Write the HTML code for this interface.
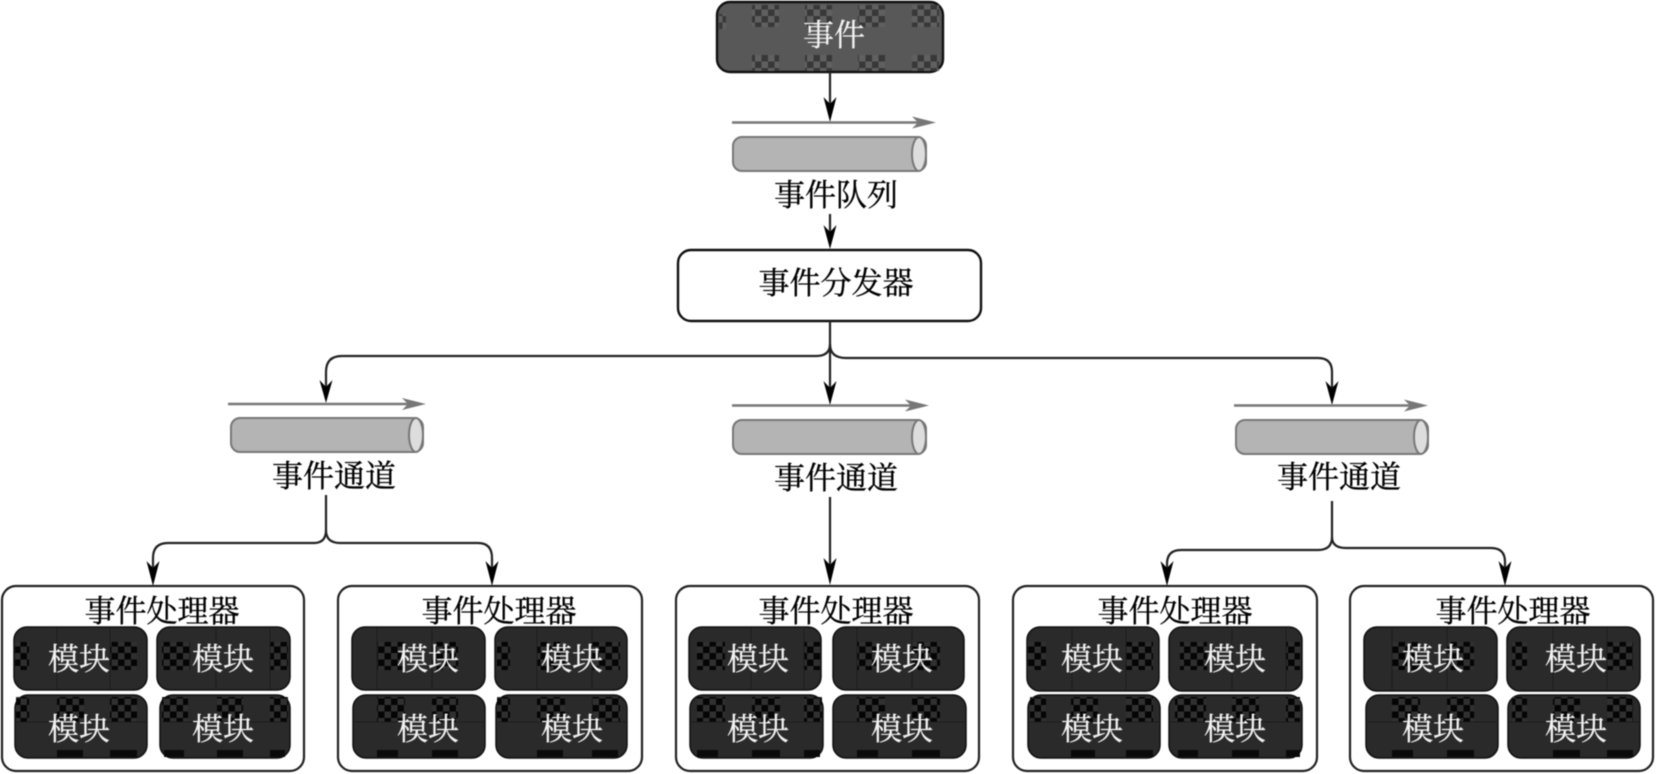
<!DOCTYPE html>
<html><head><meta charset="utf-8"><style>
html,body{margin:0;padding:0;background:#fff;width:1656px;height:774px;overflow:hidden}
svg{display:block;filter:blur(.6px)}
text{font-family:"Liberation Serif","Noto Serif CJK SC",serif;font-size:31px;text-anchor:middle;fill:#000;stroke:#000;stroke-width:.35px}
text.w{fill:#f2f2f2;stroke:#f2f2f2;stroke-width:.25px}
.h{fill:#fff;stroke:#222;stroke-width:2.2}
.m{fill:#2a2a2a;stroke:#111;stroke-width:1.5}
.c{fill:url(#chk)}
.b{fill:#0a0a0a}
.l{fill:none;stroke:#222;stroke-width:2.2}
.a{fill:#000}
.g{stroke:#777;stroke-width:2.4;fill:none}
.ga{fill:#777}
.cy{fill:#b4b4b4;stroke:#777;stroke-width:2}
.ce{fill:#ddd;stroke:#777;stroke-width:2}
.v{stroke:#1c1c1c;stroke-width:1;fill:none}
</style></head><body>
<svg width="1656" height="774" viewBox="0 0 1656 774" xmlns="http://www.w3.org/2000/svg">
<defs>
<pattern id="chk" width="13" height="13" patternUnits="userSpaceOnUse" patternTransform="translate(1 3)">
<rect width="13" height="13" fill="#050505"/><rect x="0" y="0" width="6.500" height="6.500" fill="#303030"/><rect x="6.500" y="6.500" width="6.500" height="6.500" fill="#303030"/>
</pattern>
<pattern id="chk2" width="13" height="13" patternUnits="userSpaceOnUse" patternTransform="translate(1 3)">
<rect width="13" height="13" fill="#383838"/><rect x="0" y="0" width="6.500" height="6.500" fill="#606060"/><rect x="6.500" y="6.500" width="6.500" height="6.500" fill="#606060"/>
</pattern>
</defs>

<!-- top event box -->
<rect x="717" y="2" width="226" height="70" rx="13" fill="#585858" stroke="#111" stroke-width="2.4"/>
<g fill="url(#chk2)">
<rect x="752" y="5" width="27" height="22"/><rect x="805" y="5" width="27" height="22"/><rect x="858" y="5" width="27" height="22"/><rect x="912" y="5" width="27" height="22"/>
<rect x="752" y="55" width="27" height="16"/><rect x="805" y="55" width="27" height="16"/><rect x="858" y="55" width="27" height="16"/><rect x="912" y="55" width="27" height="16"/>
<rect x="719" y="14" width="7" height="15"/>
</g>
<text class="w" x="834" y="46">事件</text>

<!-- queue -->
<path class="l" d="M830 72V110"/>
<path class="a" d="M830 122L823.500 97L830 104L836.500 97Z"/>
<path class="g" d="M732 122.500H925"/>
<path class="ga" d="M936 122.500L912 116.500L918 122.500L912 128.500Z"/>
<rect class="cy" x="733" y="137" width="193" height="34" rx="9"/>
<ellipse class="ce" cx="919" cy="154" rx="7" ry="17"/>
<text x="836" y="206">事件队列</text>

<!-- dispatcher -->
<path class="l" d="M830 214V238"/>
<path class="a" d="M830 249L823.500 225L830 232L836.500 225Z"/>
<rect x="678" y="250" width="303" height="71" rx="13" fill="#fff" stroke="#111" stroke-width="2.4"/>
<text x="836" y="294">事件分发器</text>

<!-- dispatcher fan out -->
<path class="l" d="M830 321V395"/>
<path class="a" d="M830 405L823.500 381L830 388L836.500 381Z"/>
<path class="l" d="M830 344Q830 356 816 356H342Q326 356 326 372V392"/>
<path class="a" d="M326 403L319.500 380L326 387L332.500 380Z"/>
<path class="l" d="M830 344Q830 358 846 358H1318Q1332 358 1332 372V394"/>
<path class="a" d="M1332 405L1325.500 381L1332 388L1338.500 381Z"/>

<!-- channel left -->
<path class="g" d="M228 404H416"/>
<path class="ga" d="M426 404L402 398L408 404L402 410Z"/>
<rect class="cy" x="231" y="418" width="192" height="34" rx="9"/>
<ellipse class="ce" cx="416" cy="435" rx="7" ry="17"/>
<text x="334" y="487">事件通道</text>
<path class="l" d="M326 495V530Q326 543 314 543H168Q153 543 153 558V574"/>
<path class="a" d="M153 586L146.500 561L153 568L159.500 561Z"/>
<path class="l" d="M326 530Q326 543 340 543H478Q492 543 492 558V574"/>
<path class="a" d="M492 586L485.500 561L492 568L498.500 561Z"/>

<!-- channel mid -->
<path class="g" d="M732 405.500H918"/>
<path class="ga" d="M929 405.500L905 399.500L911 405.500L905 411.500Z"/>
<rect class="cy" x="733" y="420" width="193" height="34" rx="9"/>
<ellipse class="ce" cx="919" cy="437" rx="7" ry="17"/>
<text x="836" y="489">事件通道</text>
<path class="l" d="M830 497V572"/>
<path class="a" d="M830 585L823.500 558L830 565L836.500 558Z"/>

<!-- channel right -->
<path class="g" d="M1234 405.500H1417"/>
<path class="ga" d="M1428 405.500L1404 399.500L1410 405.500L1404 411.500Z"/>
<rect class="cy" x="1236" y="420" width="192" height="34" rx="9"/>
<ellipse class="ce" cx="1421" cy="437" rx="7" ry="17"/>
<text x="1339" y="488">事件通道</text>
<path class="l" d="M1332 501V537Q1332 550 1318 550H1181Q1167 550 1167 564V574"/>
<path class="a" d="M1167 586L1160.500 561L1167 568L1173.500 561Z"/>
<path class="l" d="M1332 537Q1332 548 1346 548H1491Q1505 548 1505 562V574"/>
<path class="a" d="M1505 586L1498.500 561L1505 568L1511.500 561Z"/>

<!-- handler 1 -->
<rect class="h" x="2" y="586" width="302" height="185" rx="14"/>
<text x="162" y="622">事件处理器</text>
<rect class="m" x="14" y="627" width="133" height="63" rx="13"/>
<rect class="m" x="157" y="627" width="133" height="63" rx="13"/>
<rect class="m" x="15" y="695" width="132" height="63" rx="13"/>
<rect class="m" x="160" y="695" width="130" height="63" rx="13"/>
<g class="c">
<rect x="15" y="642" width="14" height="28"/><rect x="110" y="642" width="27" height="28"/>
<rect x="162" y="642" width="28" height="28"/><rect x="270" y="642" width="18" height="28"/>
<rect x="16" y="697" width="13" height="25"/><rect x="57" y="697" width="27" height="25"/><rect x="110" y="697" width="27" height="25"/>
<rect x="162" y="697" width="26" height="25"/><rect x="217" y="697" width="26" height="25"/><rect x="270" y="697" width="18" height="25"/>
</g>
<g class="b">
<rect x="57" y="750" width="26" height="7"/><rect x="110" y="750" width="27" height="7"/>
<rect x="164" y="750" width="20" height="7"/><rect x="217" y="750" width="26" height="7"/><rect x="270" y="750" width="15" height="7"/>
</g>
<path class="v" d="M57 628V689M110 628V689M216 628V689M270 628V689M16 722H146M162 722H288"/>
<text class="w" x="79" y="670">模块</text><text class="w" x="223" y="670">模块</text>
<text class="w" x="79" y="740">模块</text><text class="w" x="223" y="740">模块</text>

<!-- handler 2 -->
<rect class="h" x="338" y="586" width="304" height="185" rx="14"/>
<text x="499" y="622">事件处理器</text>
<rect class="m" x="352" y="627" width="133" height="63" rx="13"/>
<rect class="m" x="495" y="627" width="132" height="63" rx="13"/>
<rect class="m" x="353" y="695" width="132" height="63" rx="13"/>
<rect class="m" x="496" y="695" width="131" height="63" rx="13"/>
<g class="c">
<rect x="377" y="642" width="28" height="28"/><rect x="432" y="642" width="26" height="28"/>
<rect x="497" y="642" width="13" height="28"/><rect x="537" y="642" width="28" height="28"/><rect x="592" y="642" width="28" height="28"/>
<rect x="377" y="697" width="28" height="25"/><rect x="432" y="697" width="26" height="25"/>
<rect x="497" y="697" width="13" height="25"/><rect x="537" y="697" width="28" height="25"/><rect x="592" y="697" width="28" height="25"/>
</g>
<g class="b">
<rect x="377" y="750" width="21" height="7"/><rect x="432" y="750" width="26" height="7"/>
<rect x="537" y="750" width="26" height="7"/><rect x="592" y="750" width="26" height="7"/>
</g>
<path class="v" d="M377 628V689M432 628V689M537 628V689M592 628V689M354 722H484M498 722H626"/>
<text class="w" x="428" y="670">模块</text><text class="w" x="572" y="670">模块</text>
<text class="w" x="428" y="740">模块</text><text class="w" x="572" y="740">模块</text>

<!-- handler 3 -->
<rect class="h" x="676" y="586" width="303" height="185" rx="14"/>
<text x="836" y="622">事件处理器</text>
<rect class="m" x="689" y="627" width="132" height="63" rx="13"/>
<rect class="m" x="833" y="627" width="131" height="63" rx="13"/>
<rect class="m" x="690" y="695" width="133" height="63" rx="13"/>
<rect class="m" x="833" y="695" width="133" height="63" rx="13"/>
<g class="c">
<rect x="697" y="642" width="28" height="28"/><rect x="804" y="642" width="16" height="28"/>
<rect x="857" y="642" width="20" height="28"/><rect x="912" y="642" width="28" height="28"/>
<rect x="697" y="697" width="28" height="25"/><rect x="752" y="697" width="28" height="25"/><rect x="804" y="697" width="18" height="25"/>
<rect x="857" y="697" width="28" height="25"/><rect x="912" y="697" width="28" height="25"/>
</g>
<g class="b">
<rect x="697" y="750" width="21" height="7"/><rect x="752" y="750" width="28" height="7"/><rect x="804" y="750" width="16" height="7"/>
<rect x="857" y="750" width="21" height="7"/><rect x="912" y="750" width="28" height="7"/>
</g>
<path class="v" d="M751 628V689M804 628V689M857 628V689M912 628V689M691 722H822M834 722H965"/>
<text class="w" x="758" y="670">模块</text><text class="w" x="902" y="670">模块</text>
<text class="w" x="758" y="740">模块</text><text class="w" x="902" y="740">模块</text>

<!-- handler 4 -->
<rect class="h" x="1013" y="586" width="304" height="185" rx="14"/>
<text x="1175" y="622">事件处理器</text>
<rect class="m" x="1027" y="627" width="132" height="64" rx="13"/>
<rect class="m" x="1169" y="627" width="133" height="64" rx="13"/>
<rect class="m" x="1028" y="695" width="132" height="63" rx="13"/>
<rect class="m" x="1169" y="695" width="133" height="63" rx="13"/>
<g class="c">
<rect x="1028" y="642" width="18" height="28"/><rect x="1126" y="642" width="27" height="28"/>
<rect x="1180" y="642" width="27" height="28"/><rect x="1286" y="642" width="14" height="28"/>
<rect x="1030" y="697" width="16" height="25"/><rect x="1071" y="697" width="27" height="25"/><rect x="1126" y="697" width="27" height="25"/>
<rect x="1175" y="697" width="31" height="25"/><rect x="1232" y="697" width="27" height="25"/><rect x="1286" y="697" width="14" height="25"/>
</g>
<g class="b">
<rect x="1071" y="750" width="24" height="7"/><rect x="1126" y="750" width="27" height="7"/>
<rect x="1178" y="750" width="20" height="7"/><rect x="1232" y="750" width="27" height="7"/><rect x="1286" y="750" width="14" height="7"/>
</g>
<path class="v" d="M1072 628V690M1126 628V690M1232 628V690M1286 628V690M1029 722H1159M1170 722H1301"/>
<text class="w" x="1092" y="670">模块</text><text class="w" x="1235" y="670">模块</text>
<text class="w" x="1092" y="740">模块</text><text class="w" x="1235" y="740">模块</text>

<!-- handler 5 -->
<rect class="h" x="1350" y="586" width="303" height="185" rx="14"/>
<text x="1513" y="622">事件处理器</text>
<rect class="m" x="1364" y="627" width="133" height="64" rx="13"/>
<rect class="m" x="1507" y="627" width="133" height="64" rx="13"/>
<rect class="m" x="1366" y="695" width="132" height="63" rx="13"/>
<rect class="m" x="1508" y="695" width="132" height="63" rx="13"/>
<g class="c">
<rect x="1392" y="642" width="28" height="28"/><rect x="1447" y="642" width="27" height="28"/>
<rect x="1512" y="642" width="15" height="28"/><rect x="1607" y="642" width="26" height="28"/>
<rect x="1392" y="697" width="28" height="25"/><rect x="1447" y="697" width="27" height="25"/>
<rect x="1512" y="697" width="15" height="25"/><rect x="1553" y="697" width="27" height="25"/><rect x="1607" y="697" width="26" height="25"/>
</g>
<g class="b">
<rect x="1392" y="750" width="21" height="7"/><rect x="1447" y="750" width="27" height="7"/>
<rect x="1553" y="750" width="27" height="7"/><rect x="1607" y="750" width="26" height="7"/>
</g>
<path class="v" d="M1392 628V690M1447 628V690M1553 628V690M1607 628V690M1367 722H1497M1509 722H1639"/>
<text class="w" x="1433" y="670">模块</text><text class="w" x="1576" y="670">模块</text>
<text class="w" x="1433" y="740">模块</text><text class="w" x="1576" y="740">模块</text>
</svg>
</body></html>
